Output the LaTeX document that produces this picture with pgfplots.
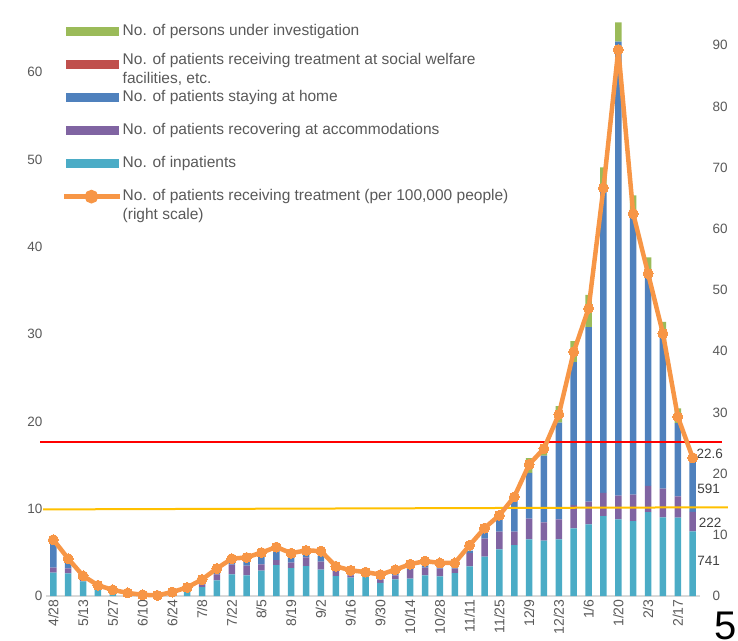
\documentclass[border=0pt]{standalone}
\usepackage{fontspec}
\setmainfont{Liberation Sans}
\usepackage{pgfplots}
\usepackage{pgfplotstable}
\pgfplotsset{compat=1.18}

\definecolor{cTeal}{HTML}{4BACC6}
\definecolor{cPurple}{HTML}{8064A2}
\definecolor{cBlue}{HTML}{4F81BD}
\definecolor{cRed}{HTML}{C0504D}
\definecolor{cGreen}{HTML}{9BBB59}
\definecolor{cOrange}{HTML}{F79646}
\definecolor{cText}{HTML}{595959}
\definecolor{cLab}{HTML}{404040}
\definecolor{cAxis}{HTML}{D9D9D9}
\definecolor{cYellow}{HTML}{FFC000}

% weekly counts (hundreds of people), stacked bottom to top
\pgfplotstableread{
x teal purple blue red green
0 2.67 0.57 2.90 0 0
1 2.58 0.57 0.70 0 0
2 1.68 0.20 0.30 0 0
3 0.84 0.10 0.15 0 0
4 0.27 0.05 0.15 0 0
5 0.10 0.00 0.05 0 0
6 0.05 0 0 0 0
7 0.05 0 0 0 0
8 0.10 0 0 0 0
9 0.46 0.05 0.05 0 0
10 1.03 0.30 0.15 0 0
11 1.79 0.69 0.38 0 0
12 2.48 1.10 0.60 0 0
13 2.36 1.12 0.40 0 0
14 2.92 0.70 1.00 0 0
15 3.53 0.57 1.15 0 0
16 3.20 0.62 0.60 0 0
17 3.42 1.00 0.50 0 0
18 3.03 0.90 0.70 0 0
19 2.29 0.55 0.30 0 0
20 2.10 0.27 0.20 0 0
21 2.18 0.12 0.10 0 0
22 1.49 0.38 0.30 0 0
23 1.91 0.46 0.20 0 0
24 1.98 1.02 0.40 0 0
25 2.37 0.87 0.30 0 0
26 2.25 0.88 0.35 0 0
27 2.63 0.50 0.30 0 0
28 3.40 1.50 0.30 0 0
29 4.52 2.05 0.75 0 0
30 5.34 2.03 1.80 0 0
31 5.84 1.53 3.60 0 0.15
32 6.49 2.36 5.25 0 1.70
33 6.34 2.10 7.63 0 0.60
34 6.49 2.29 11.07 0 1.90
35 7.75 2.65 16.40 0 2.40
36 8.20 2.60 20.00 0 3.70
37 9.16 2.64 35.10 0 2.20
38 8.78 2.72 52.00 0 2.20
39 8.59 3.01 32.20 0 2.10
40 9.60 3.00 24.00 0 2.20
41 9.00 3.30 17.80 0 1.30
42 8.97 2.43 8.40 0 1.70
43 7.41 2.22 5.91 0 0
}\bars

% patients per 100,000 people (right scale)
\pgfplotstableread{
x rate
0 9.2
1 6.1
2 3.3
3 1.75
4 1.0
5 0.5
6 0.2
7 0.1
8 0.65
9 1.4
10 2.7
11 4.5
12 6.1
13 6.3
14 7.1
15 8.0
16 7.0
17 7.45
18 7.35
19 4.85
20 4.2
21 3.9
22 3.5
23 4.3
24 5.2
25 5.7
26 5.4
27 5.4
28 8.3
29 11.1
30 13.2
31 16.2
32 21.5
33 24.1
34 29.7
35 39.9
36 47.0
37 66.7
38 89.3
39 62.5
40 52.7
41 42.9
42 29.3
43 22.6
}\rate

\pgfplotsset{
  common/.style={
    at={(45.9bp,45bp)}, anchor=south west,
    scale only axis, width=654.2bp, height=596bp,
    xmin=-0.5, xmax=43.5, ymin=0,
    tick style={draw=none},
    ticklabel style={font=\fontsize{13.5bp}{16bp}\selectfont, text=cText},
    /pgf/number format/assume math mode=true,
    clip=false,
  },
}

\begin{document}
\begin{tikzpicture}
\useasboundingbox (0,0) rectangle (738bp,641bp);
\clip (0,0) rectangle (738bp,641bp);

\begin{axis}[common,
  ymax=68.27,
  ybar stacked, bar width=6.5bp,
  axis x line*=bottom, axis y line*=left,
  x axis line style={draw=cAxis, line width=1.5bp},
  y axis line style={draw=none},
  xtick={0,2,...,42},
  xticklabels={4/28,5/13,5/27,6/10,6/24,7/8,7/22,8/5,8/19,9/2,9/16,9/30,10/14,10/28,11/11,11/25,12/9,12/23,1/6,1/20,2/3,2/17},
  xticklabel style={rotate=90, anchor=east, font=\fontsize{14bp}{16bp}\selectfont},
  ytick={0,10,...,60},
]
\addplot[fill=cTeal, draw=none] table[x=x, y=teal] {\bars};
\addplot[fill=cPurple, draw=none] table[x=x, y=purple] {\bars};
\addplot[fill=cBlue, draw=none] table[x=x, y=blue] {\bars};
\addplot[fill=cRed, draw=none] table[x=x, y=red] {\bars};
\addplot[fill=cGreen, draw=none] table[x=x, y=green] {\bars};
\node[anchor=west, inner sep=0pt, text=cLab, font=\fontsize{13.5bp}{16bp}\selectfont] at (axis cs:43.3,12.26) {591};
\node[anchor=west, inner sep=0pt, text=cLab, font=\fontsize{13.5bp}{16bp}\selectfont] at (axis cs:43.4,8.36) {222};
\node[anchor=west, inner sep=0pt, text=cLab, font=\fontsize{13.5bp}{16bp}\selectfont] at (axis cs:43.3,4.0) {741};
\end{axis}

\begin{axis}[common,
  ymax=97.4,
  axis x line=none, axis y line*=right,
  y axis line style={draw=none},
  ytick={0,10,...,90},
  yticklabel style={anchor=west, xshift=9bp},
  legend cell align=left,
  legend style={at={(0.0246,0.959)}, anchor=north west, draw=none, fill=none,
    inner sep=0pt, row sep=19bp, column sep=0bp,
    nodes={inner sep=0pt, text height=11bp, text depth=3bp,
      font=\fontsize{15.5bp}{19bp}\selectfont, text=cText}},
]
\addlegendimage{legend image code/.code={\fill[cGreen] (0bp,-4bp) rectangle (52bp,4bp);}}
\addlegendentry{No. of persons under investigation}
\addlegendimage{legend image code/.code={\fill[cRed] (0bp,-4bp) rectangle (52bp,4bp);}}
\addlegendentry{\smash{\raisebox{4bp}{\parbox[t]{400bp}{\fontsize{15.5bp}{19bp}\selectfont No. of patients receiving treatment at social welfare\\facilities, etc.}}}}
\addlegendimage{legend image code/.code={\fill[cBlue] (0bp,-4bp) rectangle (52bp,4bp);}}
\addlegendentry{No. of patients staying at home}
\addlegendimage{legend image code/.code={\fill[cPurple] (0bp,-4bp) rectangle (52bp,4bp);}}
\addlegendentry{No. of patients recovering at accommodations}
\addlegendimage{legend image code/.code={\fill[cTeal] (0bp,-4bp) rectangle (52bp,4bp);}}
\addlegendentry{No. of inpatients}

\addplot[forget plot, red, line width=2bp] coordinates {(-0.89,25.1) (44.97,25.1)};
\addplot[forget plot, cYellow, line width=2bp] coordinates {(-0.69,14.15) (45.37,14.5)};

\addplot[cOrange, line width=4.5bp, mark=*, mark size=5bp,
  mark options={fill=cOrange, draw=cOrange, line width=0pt},
  legend image code/.code={
    \draw[cOrange, line width=4.5bp] (-2bp,0bp) -- (54bp,0bp);
    \fill[cOrange] (25bp,0bp) circle (4.5bp);}]
  table[x=x, y=rate] {\rate};
\addlegendentry{\smash{\parbox[t]{420bp}{\fontsize{15.5bp}{19bp}\selectfont No. of patients receiving treatment (per 100,000 people)\\(right scale)}}}

\node[anchor=west, inner sep=0pt, text=cLab, font=\fontsize{13.5bp}{16bp}\selectfont] at (axis cs:43.25,23.2) {22.6};
\end{axis}

\node[anchor=base west, inner sep=0pt, font=\fontsize{40bp}{40bp}\selectfont] at (714bp,2bp) {5};
\end{tikzpicture}
\end{document}
